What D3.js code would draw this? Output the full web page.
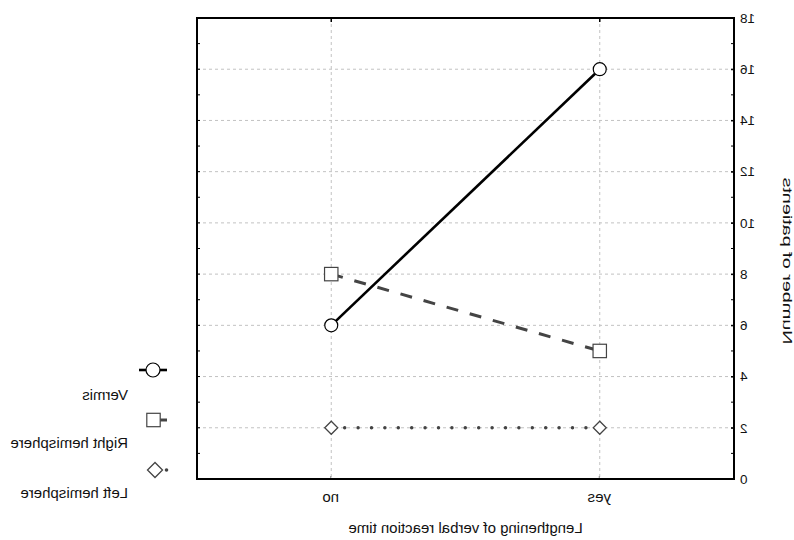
<!DOCTYPE html>
<html><head><meta charset="utf-8">
<script src="https://cdn.jsdelivr.net/npm/d3@7"></script>
<style>body{margin:0;background:#fff}svg{display:block}text{font-family:"Liberation Sans",Arial,sans-serif;fill:#111}</style>
</head><body><svg id="c" width="794" height="540"></svg>
<script>
const categories = ["no", "yes"];
const seriesNames = ["Vermis", "Right hemisphere", "Left hemisphere"];
const vermis = [6, 16];
const rightHem = [8, 5];
const leftHem = [2, 2];
const yTicks = [0, 2, 4, 6, 8, 10, 12, 14, 16, 18];
const xTitle = "Lengthening of verbal reaction time";
const yTitle = "Number of patients";

const svg = d3.select("#c");
// The reference is a horizontally mirrored chart: draw normally, then flip.
const root = svg.append("g").attr("transform", "translate(794,0) scale(-1,1)");
const L = 60, R = 597, T = 18, B = 479;
const x = d3.scalePoint().domain(categories).range([R, L]).padding(0.5);
const y = d3.scaleLinear().domain([0, 18]).range([B, T]);

// grid
const grid = root.append("g").attr("stroke", "#c2c2c2").attr("stroke-width", 1).attr("stroke-dasharray", "3,3");
yTicks.filter(t => t > 0 && t < 18).forEach(t => grid.append("line").attr("x1", L).attr("x2", R).attr("y1", y(t)).attr("y2", y(t)));
categories.forEach(c => grid.append("line").attr("x1", x(c)).attr("x2", x(c)).attr("y1", T).attr("y2", B));

// axes
const yAxis = d3.axisLeft(y).tickValues(yTicks).tickSize(-3).tickPadding(6);
const ya = root.append("g").attr("transform", `translate(${L},0)`).call(yAxis);
ya.select(".domain").remove();
ya.selectAll("text").attr("font-size", 13.5).attr("font-family", "Liberation Sans, Arial").attr("fill", "#111");
ya.selectAll("line").attr("stroke", "#000");
// minor ticks both sides
const minor = d3.range(0, 19);
root.append("g").selectAll("line").data(minor).join("line")
  .attr("x1", L).attr("x2", L + 3).attr("y1", d => y(d)).attr("y2", d => y(d)).attr("stroke", "#000");
root.append("g").selectAll("line").data(minor).join("line")
  .attr("x1", R).attr("x2", R - 3).attr("y1", d => y(d)).attr("y2", d => y(d)).attr("stroke", "#000");

const xAxis = d3.axisBottom(x).tickSize(-3).tickPadding(12);
const xa = root.append("g").attr("transform", `translate(0,${B})`).call(xAxis);
xa.select(".domain").remove();
xa.selectAll("text").attr("font-size", 15).attr("font-family", "Liberation Sans, Arial").attr("fill", "#111");
xa.selectAll("line").attr("stroke", "#888");
root.append("g").selectAll("line").data(categories).join("line")
  .attr("x1", d => x(d)).attr("x2", d => x(d)).attr("y1", T).attr("y2", T + 4).attr("stroke", "#000").attr("stroke-width", 1.5);

// frame
root.append("rect").attr("x", L).attr("y", T).attr("width", R - L).attr("height", B - T)
  .attr("fill", "none").attr("stroke", "#000").attr("stroke-width", 2);

// titles
root.append("text").attr("x", (L + R) / 2).attr("y", 533).attr("text-anchor", "middle").attr("font-size", 15).text(xTitle);
root.append("text").attr("transform", `translate(11,261) rotate(-90)`).attr("text-anchor", "middle").attr("font-size", 12.5)
  .attr("textLength", 167).attr("lengthAdjust", "spacingAndGlyphs").text(yTitle);

// series lines
const line = d3.line().x((d, i) => x(categories[i])).y(d => y(d));
root.append("path").datum(leftHem).attr("d", line).attr("fill", "none").attr("stroke", "#444")
  .attr("stroke-width", 3.4).attr("stroke-linecap", "round").attr("stroke-dasharray", "0.1,13.3");
root.append("path").datum(rightHem).attr("d", line).attr("fill", "none").attr("stroke", "#444")
  .attr("stroke-width", 3).attr("stroke-dasharray", "12,12");
root.append("path").datum(vermis).attr("d", line).attr("fill", "none").attr("stroke", "#000").attr("stroke-width", 2.6);

// markers
function circle(g, cx, cy, r) { g.append("circle").attr("cx", cx).attr("cy", cy).attr("r", r).attr("fill", "#fff").attr("stroke", "#000").attr("stroke-width", 1.2); }
function square(g, cx, cy, h) { g.append("rect").attr("x", cx - h).attr("y", cy - h).attr("width", 2 * h).attr("height", 2 * h).attr("fill", "#fff").attr("stroke", "#444").attr("stroke-width", 1.2); }
function diamond(g, cx, cy, h) { g.append("path").attr("d", `M${cx},${cy - h}L${cx + h},${cy}L${cx},${cy + h}L${cx - h},${cy}Z`).attr("fill", "#fff").attr("stroke", "#444").attr("stroke-width", 1.3); }
const mk = root.append("g");
leftHem.forEach((v, i) => diamond(mk, x(categories[i]), y(v), 6.5));
rightHem.forEach((v, i) => square(mk, x(categories[i]), y(v), 6.7));
vermis.forEach((v, i) => circle(mk, x(categories[i]), y(v), 6.5));

// legend
const lg = root.append("g");
lg.append("line").attr("x1", 627).attr("x2", 655).attr("y1", 370).attr("y2", 370).attr("stroke", "#000").attr("stroke-width", 2.6);
circle(lg, 641, 370, 7);
lg.append("line").attr("x1", 627).attr("x2", 634).attr("y1", 420).attr("y2", 420).attr("stroke", "#444").attr("stroke-width", 3);
square(lg, 640.5, 420, 6.7);
lg.append("circle").attr("cx", 627.5).attr("cy", 470).attr("r", 1.8).attr("fill", "#444");
diamond(lg, 639, 470, 7.5);
const ly = [400, 448, 498];
seriesNames.forEach((n, i) => lg.append("text").attr("x", 666).attr("y", ly[i]).attr("font-size", 15).text(n));
</script></body></html>
